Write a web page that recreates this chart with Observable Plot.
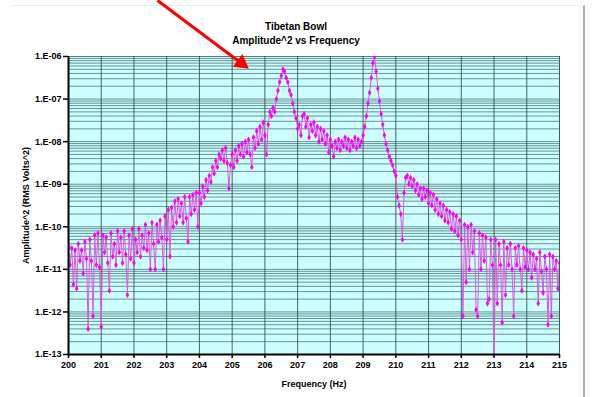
<!DOCTYPE html>
<html><head><meta charset="utf-8">
<script src="https://cdn.jsdelivr.net/npm/d3@7"></script>
<script src="https://cdn.jsdelivr.net/npm/@observablehq/plot@0.6"></script>
<style>
body{margin:0;background:#fff;font-family:"Liberation Sans",Arial,sans-serif;}
#wrap{position:relative;width:592px;height:397px;overflow:hidden}
#wrap svg{position:absolute;left:0;top:0}
#title{position:absolute;left:0;width:592px;top:20px;text-align:center;font-weight:bold;font-size:10px;line-height:14px;color:#000;z-index:2}
#slide{position:absolute;left:10px;top:5px;width:573px;height:400px;border-top:1px solid #e4eeee;border-right:2px solid #a9a9cf}
</style></head>
<body><div id="wrap"><div id="slide"></div><div id="title">Tibetan Bowl<br>Amplitude^2 vs Frequency</div></div>
<script>
// Frequency bins (Hz): start and spacing of the spectrum samples
const freqStart = 200;
const freqStep = 0.05;
// log10 of Amplitude^2, one row per Hz (200.00 ... 215.00)
const logAmplitude = [
 -10.45,-10.9,-10.5,-11.35,-10.55,-11.45,-10.4,-10.8,-10.55,-11.1,-10.35,-10.75,-12.4,-10.3,-10.8,-12.1,-10.2,-10.9,-10.15,-10.95,
 -12.35,-10.2,-10.6,-10.25,-10.85,-11.5,-10.15,-10.7,-10.4,-10.9,-10.1,-10.6,-10.25,-10.85,-10.1,-10.65,-11.6,-10.2,-10.75,-10.05,
 -10.85,-10.3,-10.6,-10.05,-10.7,-10.2,-10.5,-9.95,-10.55,-10.15,-11.0,-9.9,-10.4,-11.0,-9.95,-10.35,-9.85,-10.25,-11.0,-9.75,
 -10.3,-9.6,-10.7,-9.55,-10.0,-9.4,-9.9,-9.35,-9.75,-9.45,-9.9,-9.3,-9.8,-10.35,-9.3,-9.7,-9.25,-9.6,-9.2,-10.0,
 -9.2,-9.45,-9.05,-9.3,-8.9,-9.15,-8.8,-8.95,-8.6,-8.75,-8.45,-8.6,-8.3,-8.4,-8.2,-8.45,-8.15,-8.5,-9.1,-8.55,
 -8.3,-8.6,-8.2,-8.45,-8.1,-8.3,-8.05,-8.35,-8.0,-8.25,-7.95,-8.3,-8.6,-7.9,-8.15,-7.75,-8.05,-7.65,-7.95,-7.55,
 -7.85,-8.3,-7.6,-7.3,-7.4,-7.2,-7.3,-7.0,-6.8,-6.6,-6.45,-6.3,-6.35,-6.5,-6.6,-6.8,-6.9,-7.1,-7.3,-7.45,
 -7.7,-7.6,-7.85,-7.4,-7.35,-7.65,-7.45,-7.9,-7.6,-7.75,-7.55,-7.85,-7.65,-8.0,-7.7,-7.95,-7.75,-8.05,-7.85,-8.25,
 -7.95,-8.1,-8.35,-8.0,-8.15,-7.95,-8.2,-8.0,-8.1,-7.9,-8.15,-7.95,-8.2,-8.0,-8.1,-7.9,-8.15,-7.95,-8.1,-8.0,
 -7.85,-7.65,-7.4,-7.1,-6.85,-6.5,-6.15,-6.0,-6.35,-6.75,-7.05,-7.35,-7.6,-7.85,-8.05,-8.2,-8.35,-8.45,-8.55,-8.7,
 -8.8,-9.3,-9.5,-9.7,-10.3,-9.2,-8.85,-8.8,-9.0,-8.85,-9.05,-8.9,-9.15,-9.0,-9.25,-9.1,-9.35,-9.1,-9.3,-9.15,
 -9.45,-9.2,-9.5,-9.25,-9.6,-9.35,-9.7,-9.45,-9.75,-9.5,-9.85,-9.6,-9.9,-9.65,-10.05,-9.7,-10.1,-9.75,-10.2,-9.85,
 -10.3,-12.1,-9.95,-11.3,-10.0,-11.0,-9.95,-10.6,-10.1,-11.95,-12.1,-10.15,-11.0,-10.2,-10.8,-10.25,-11.8,-11.7,-10.3,-10.9,
 -13.3,-10.3,-11.8,-10.4,-10.9,-12.25,-10.35,-11.6,-10.5,-10.9,-10.4,-11.0,-12.1,-10.5,-10.9,-10.45,-11.0,-11.5,-10.5,-10.95,
 -10.55,-11.0,-10.6,-11.2,-10.65,-11.0,-10.75,-11.8,-10.6,-11.05,-11.55,-10.7,-11.0,-12.3,-10.65,-12.1,-10.7,-11.0,-10.8,-11.45,
 -10.85
];
// Axis ticks
const xTicks = [200,201,202,203,204,205,206,207,208,209,210,211,212,213,214,215];
const yDecades = [-13,-12,-11,-10,-9,-8,-7,-6];
const minorMultipliers = [1,2,3,4,5,6,7,8,9];
// Annotation arrow (data coordinates): shaft start, arrowhead centre
const arrowShaft = [{fromF: 202.72, fromA: 2.07e-5, toF: 205.28, toA: 6.97e-7}];
const arrowHead = [{f: 205.28, a: 6.97e-7}];

const data = logAmplitude.map((v, i) => ({f: freqStart + i * freqStep, a: Math.pow(10, v)}));
const yTicks = yDecades.map(e => Math.pow(10, e));
const minorGrid = [];
yDecades.slice(0, -1).forEach(e => minorMultipliers.forEach(m => minorGrid.push(m * Math.pow(10, e))));
minorGrid.push(1e-6);
const fmtY = d => { const e = Math.round(Math.log10(d)); return "1.E" + (e < 0 ? "-" : "+") + String(Math.abs(e)).padStart(2, "0"); };

const chart = Plot.plot({
  width: 592, height: 397,
  marginTop: 56, marginLeft: 68, marginRight: 33, marginBottom: 43,
  style: {fontFamily: "'Liberation Sans', Arial, sans-serif", fontSize: "9px", fontWeight: "bold", background: "transparent", overflow: "visible", color: "#000"},
  x: {domain: [200, 215]},
  y: {type: "log", domain: [1e-13, 1e-6]},
  marks: [
    Plot.frame({fill: "#ccffff", stroke: "#98aaaa"}),
    Plot.ruleY(minorGrid, {stroke: "#456f6f", strokeOpacity: 0.75}),
    Plot.ruleX(xTicks, {stroke: "#2f4a4a", strokeOpacity: 0.85}),
    Plot.line(data, {x: "f", y: "a", stroke: "#e055e0", strokeWidth: 1, clip: true}),
    Plot.dot(data, {x: "f", y: "a", symbol: "diamond", r: 1.9, fill: "#ff00ff", clip: true}),
    Plot.axisY({ticks: yTicks, tickFormat: fmtY, tickSize: 5, tickPadding: 2, strokeWidth: 1.5,
      label: "Amplitude^2 (RMS Volts^2)", labelAnchor: "center", labelOffset: 46, labelArrow: "none"}),
    Plot.axisX({ticks: xTicks, tickFormat: d => String(d), tickSize: 4, tickPadding: 3, strokeWidth: 1.5,
      label: "Frequency (Hz)", labelAnchor: "center", labelOffset: 32, labelArrow: "none"}),
    Plot.ruleX([200], {stroke: "black", strokeWidth: 2}),
    Plot.ruleY([1e-13], {stroke: "black", strokeWidth: 2}),
    Plot.link(arrowShaft, {x1: "fromF", y1: "fromA", x2: "toF", y2: "toA", stroke: "#ff0000", strokeWidth: 3}),
    Plot.dot(arrowHead, {x: "f", y: "a", symbol: "triangle", r: 6, fill: "#ff0000", stroke: "none", rotate: 126.8})
  ]
});
document.getElementById("wrap").appendChild(chart);
</script>
</body></html>
